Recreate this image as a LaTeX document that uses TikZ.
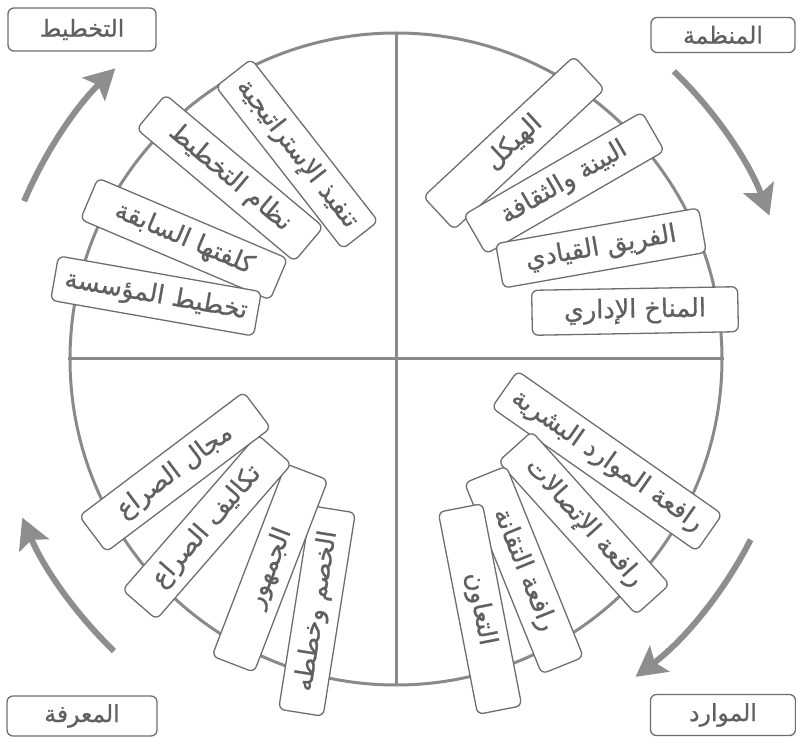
\documentclass[tikz,border=0pt]{standalone}
\usepackage{fontspec}
\newfontfamily\arabicfont[Script=Arabic,FakeBold=0.8]{DejaVu Sans}
\TeXXeTstate=1
\usetikzlibrary{arrows.meta,calc}
\definecolor{ringgray}{HTML}{8A8A8A}
\definecolor{boxgray}{HTML}{6E6E6E}
\definecolor{txtgray}{HTML}{606060}
\definecolor{arrowgray}{HTML}{8E8E8E}
\newcommand{\artxt}[1]{\beginR #1\endR}
\begin{document}
\begin{tikzpicture}[x=1pt,y=1pt,
  ring/.style={draw=ringgray, line width=3pt},
  card/.style={draw=boxgray, line width=1.3pt, fill=white, rounded corners=6pt,
    minimum width=206pt, minimum height=45pt, inner sep=0pt, text=txtgray,
    font=\fontsize{25.5}{28}\selectfont\arabicfont},
  cornerlab/.style={draw=boxgray, line width=1.3pt, fill=white, rounded corners=6pt,
    minimum width=146pt, minimum height=41pt, inner sep=0pt, text=txtgray,
    font=\fontsize{23.5}{26}\selectfont\arabicfont},
  cyclearrow/.style={draw=arrowgray, line width=6pt,
    -{Stealth[length=30pt,width=32pt,inset=6pt]}}]
\useasboundingbox (0,0) rectangle (796,-738);
\coordinate (C) at (396,-359);
% ring and cross
\draw[ring] (C) circle[radius=326];
\coordinate (Ntop) at ($(C)+(90:326)$);
\coordinate (Nbot) at ($(C)+(-90:326)$);
\coordinate (Nleft) at ($(C)+(180:328)$);
\coordinate (Nright) at ($(C)+(0:328)$);
\draw[ring] (Ntop) -- (Nbot);
\draw[ring] (Nleft) -- (Nright);
% cycle arrows
\draw[cyclearrow] ($(C)+(157:404)$) arc[start angle=157, end angle=134, radius=404];
\draw[cyclearrow] ($(C)+(46:400)$) arc[start angle=46, end angle=21, radius=400];
\draw[cyclearrow] ($(C)+(-27:398)$) arc[start angle=-27, end angle=-53, radius=398];
\draw[cyclearrow] ($(C)+(-134:406)$) arc[start angle=-134, end angle=-157, radius=406];
% corner labels
\node[cornerlab, minimum width=148pt, minimum height=43pt] (plan) at (82,-29.5) {\artxt{التخطيط}};
\node[cornerlab, minimum width=144pt, minimum height=35pt] (org) at (723,-35) {\artxt{المنظمة}};
\node[cornerlab, minimum width=150pt, minimum height=40pt] (know) at (82,-716) {\artxt{المعرفة}};
\node[cornerlab, minimum width=145pt, minimum height=41pt] (res) at (723,-715) {\artxt{الموارد}};
% upper-left cards
\node[card, rotate=-52] (a1) at (297,-154) {\artxt{تنفيذ الإستراتيجية}};
\node[card, rotate=-40] (a2) at (230,-178) {\artxt{نظام التخطيط}};
\node[card, rotate=-23] (a3) at (184,-239) {\artxt{كلفتها السابقة}};
\node[card, rotate=-10] (a4) at (156,-296) {\artxt{تخطيط المؤسسة}};
% upper-right cards
\node[card, rotate=43] (b1) at (514,-143) {\artxt{الهيكل}};
\node[card, rotate=30] (b2) at (564,-183) {\artxt{البينة والثقافة}};
\node[card, rotate=10] (b3) at (601,-248) {\artxt{الفريق القيادي}};
\node[card, rotate=1] (b4) at (635,-311) {\artxt{المناخ الإداري}};
% lower-left cards
\node[card, rotate=81] (c4) at (317,-611) {\artxt{الخصم وخططه}};
\node[card, rotate=69] (c3) at (270,-568) {\artxt{الجمهور}};
\node[card, rotate=49] (c2) at (207,-527) {\artxt{تكاليف الصراع}};
\node[card, rotate=37] (c1) at (175,-472) {\artxt{مجال الصراع}};
% lower-right cards
\node[card, rotate=-35, minimum width=250pt] (d1) at (607,-461) {\artxt{رافعة الموارد البشرية}};
\node[card, rotate=-48] (d2) at (584,-523) {\artxt{رافعة الإتصالات}};
\node[card, rotate=-68] (d3) at (524,-570) {\artxt{رافعة التقانة}};
\node[card, rotate=-79] (d4) at (480,-609) {\artxt{التعاون}};
\end{tikzpicture}
\end{document}
